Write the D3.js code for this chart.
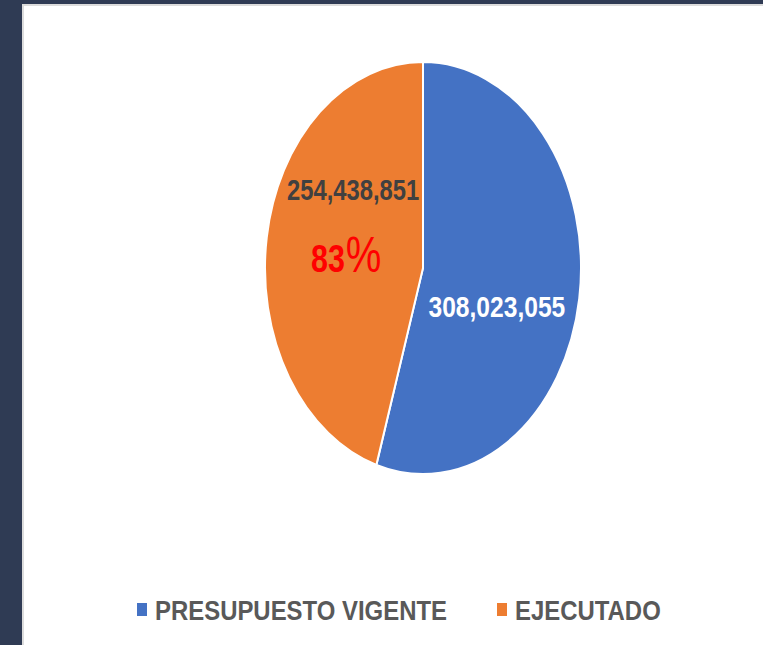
<!DOCTYPE html>
<html>
<head>
<meta charset="utf-8">
<script src="https://cdn.jsdelivr.net/npm/d3@7"></script>
<style>
  html, body { margin: 0; padding: 0; background: #2f3b54; }
  svg { display: block; }
</style>
</head>
<body>
<script>
// data
const categories = ["PRESUPUESTO VIGENTE", "EJECUTADO"];
const values = [308023055, 254438851];
const colors = ["#4472c4", "#ed7d31"];
const percentLabel = "83";

const width = 763, height = 645;
const cx = 423, cy = 268, rx = 158, ry = 206;
const narrow = 0.82; // no Arial Narrow here, so squeeze the text horizontally

const svg = d3.select("body").append("svg")
    .attr("width", width)
    .attr("height", height);

// backdrop: dark slide border + white panel
svg.append("rect").attr("width", width).attr("height", height).attr("fill", "#2f3b54");
svg.append("rect")
    .attr("x", 22).attr("y", 4)
    .attr("width", width - 22).attr("height", height - 4)
    .attr("fill", "#dcdcdc");
svg.append("rect")
    .attr("x", 24).attr("y", 6)
    .attr("width", width - 24).attr("height", height - 6)
    .attr("fill", "#fff");

const data = categories.map((c, i) => ({ name: c, value: values[i], color: colors[i] }));

const pie = d3.pie().sort(null).value(d => d.value);
const arcs = pie(data);
const arc = d3.arc().innerRadius(0).outerRadius(rx);

// pie is drawn stretched vertically into an ellipse
const g = svg.append("g")
    .attr("transform", `translate(${cx},${cy}) scale(1,${ry / rx})`);

g.selectAll("path")
    .data(arcs)
    .join("path")
    .attr("d", arc)
    .attr("fill", d => d.data.color)
    .attr("stroke", "#fff")
    .attr("stroke-width", 2)
    .attr("vector-effect", "non-scaling-stroke");

const fmt = d3.format(",");
const labelArc = d3.arc().innerRadius(rx * 0.62).outerRadius(rx * 0.62);
const font = "'Liberation Sans', Arial, sans-serif";
const pos = d => {
    const c = labelArc.centroid(d);
    return [cx + c[0], cy + c[1] * ry / rx];
};

// value labels
const nudges = [[-23, 30], [27, -49]];
const lab = svg.append("g");
lab.selectAll("g")
    .data(arcs)
    .join("g")
    .attr("transform", (d, i) => {
        const p = pos(d);
        return `translate(${p[0] + nudges[i][0]},${p[1] + nudges[i][1]}) scale(${narrow},1)`;
    })
    .append("text")
    .attr("text-anchor", "middle")
    .style("font-family", font)
    .style("font-weight", "bold")
    .style("font-size", (d, i) => i === 0 ? "30px" : "29px")
    .attr("fill", (d, i) => i === 0 ? "#fff" : "#404040")
    .text(d => fmt(d.value));

// percentage in the executed slice
const po = pos(arcs[1]);
const pt = svg.append("g")
    .attr("transform", `translate(${po[0] + 20},${po[1] + 23}) scale(0.8,1)`)
    .append("text")
    .attr("text-anchor", "middle")
    .style("font-family", font)
    .attr("fill", "#ff0000");
pt.append("tspan").style("font-weight", "bold").style("font-size", "38px").text(percentLabel);
pt.append("tspan").attr("dx", 1).style("font-size", "50px").text("%");

// legend
const legend = svg.append("g").attr("transform", "translate(137,620)");
const item = legend.selectAll("g")
    .data(data)
    .join("g")
    .attr("transform", (d, i) => `translate(${i === 0 ? 0 : 360},0)`);
item.append("rect")
    .attr("x", 0).attr("y", -17)
    .attr("width", 10).attr("height", 13)
    .attr("fill", d => d.color);
item.append("text")
    .attr("transform", `translate(18,0) scale(0.84,1)`)
    .style("font-family", font)
    .style("font-weight", "bold")
    .style("font-size", "28.5px")
    .attr("fill", "#595959")
    .text(d => d.name);
</script>
</body>
</html>
